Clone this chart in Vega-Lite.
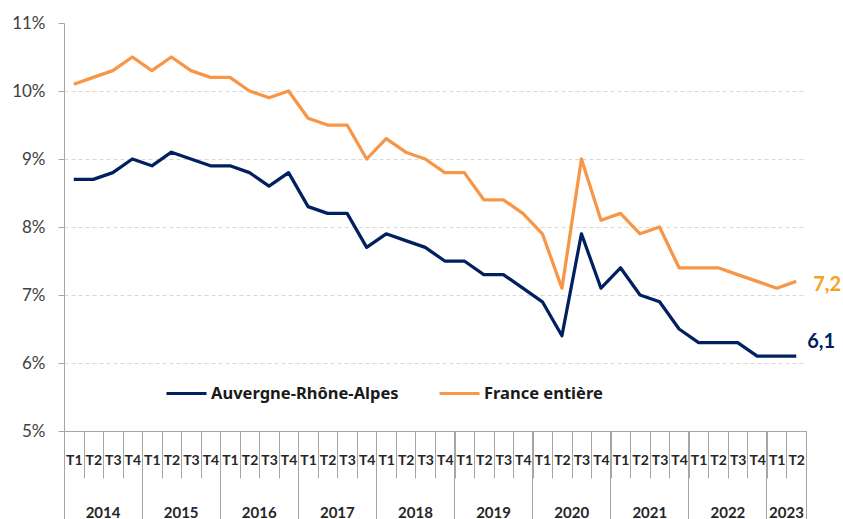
{
  "$schema": "https://vega.github.io/schema/vega-lite/v6.json",
  "width": 742,
  "height": 408,
  "autosize": {"type": "none"},
  "padding": {"left": 64, "top": 23, "right": 37, "bottom": 88},
  "background": "#ffffff",
  "config": {
    "view": {"stroke": null},
    "locale": {"number": {"decimal": ",", "thousands": " ", "grouping": [3], "currency": ["", " €"]}}
  },
  "data": {
    "values": [
      {"q": "2014-T1", "series": "Auvergne-Rhône-Alpes", "value": 8.7},
      {"q": "2014-T2", "series": "Auvergne-Rhône-Alpes", "value": 8.7},
      {"q": "2014-T3", "series": "Auvergne-Rhône-Alpes", "value": 8.8},
      {"q": "2014-T4", "series": "Auvergne-Rhône-Alpes", "value": 9.0},
      {"q": "2015-T1", "series": "Auvergne-Rhône-Alpes", "value": 8.9},
      {"q": "2015-T2", "series": "Auvergne-Rhône-Alpes", "value": 9.1},
      {"q": "2015-T3", "series": "Auvergne-Rhône-Alpes", "value": 9.0},
      {"q": "2015-T4", "series": "Auvergne-Rhône-Alpes", "value": 8.9},
      {"q": "2016-T1", "series": "Auvergne-Rhône-Alpes", "value": 8.9},
      {"q": "2016-T2", "series": "Auvergne-Rhône-Alpes", "value": 8.8},
      {"q": "2016-T3", "series": "Auvergne-Rhône-Alpes", "value": 8.6},
      {"q": "2016-T4", "series": "Auvergne-Rhône-Alpes", "value": 8.8},
      {"q": "2017-T1", "series": "Auvergne-Rhône-Alpes", "value": 8.3},
      {"q": "2017-T2", "series": "Auvergne-Rhône-Alpes", "value": 8.2},
      {"q": "2017-T3", "series": "Auvergne-Rhône-Alpes", "value": 8.2},
      {"q": "2017-T4", "series": "Auvergne-Rhône-Alpes", "value": 7.7},
      {"q": "2018-T1", "series": "Auvergne-Rhône-Alpes", "value": 7.9},
      {"q": "2018-T2", "series": "Auvergne-Rhône-Alpes", "value": 7.8},
      {"q": "2018-T3", "series": "Auvergne-Rhône-Alpes", "value": 7.7},
      {"q": "2018-T4", "series": "Auvergne-Rhône-Alpes", "value": 7.5},
      {"q": "2019-T1", "series": "Auvergne-Rhône-Alpes", "value": 7.5},
      {"q": "2019-T2", "series": "Auvergne-Rhône-Alpes", "value": 7.3},
      {"q": "2019-T3", "series": "Auvergne-Rhône-Alpes", "value": 7.3},
      {"q": "2019-T4", "series": "Auvergne-Rhône-Alpes", "value": 7.1},
      {"q": "2020-T1", "series": "Auvergne-Rhône-Alpes", "value": 6.9},
      {"q": "2020-T2", "series": "Auvergne-Rhône-Alpes", "value": 6.4},
      {"q": "2020-T3", "series": "Auvergne-Rhône-Alpes", "value": 7.9},
      {"q": "2020-T4", "series": "Auvergne-Rhône-Alpes", "value": 7.1},
      {"q": "2021-T1", "series": "Auvergne-Rhône-Alpes", "value": 7.4},
      {"q": "2021-T2", "series": "Auvergne-Rhône-Alpes", "value": 7.0},
      {"q": "2021-T3", "series": "Auvergne-Rhône-Alpes", "value": 6.9},
      {"q": "2021-T4", "series": "Auvergne-Rhône-Alpes", "value": 6.5},
      {"q": "2022-T1", "series": "Auvergne-Rhône-Alpes", "value": 6.3},
      {"q": "2022-T2", "series": "Auvergne-Rhône-Alpes", "value": 6.3},
      {"q": "2022-T3", "series": "Auvergne-Rhône-Alpes", "value": 6.3},
      {"q": "2022-T4", "series": "Auvergne-Rhône-Alpes", "value": 6.1},
      {"q": "2023-T1", "series": "Auvergne-Rhône-Alpes", "value": 6.1},
      {"q": "2023-T2", "series": "Auvergne-Rhône-Alpes", "value": 6.1},
      {"q": "2014-T1", "series": "France entière", "value": 10.1},
      {"q": "2014-T2", "series": "France entière", "value": 10.2},
      {"q": "2014-T3", "series": "France entière", "value": 10.3},
      {"q": "2014-T4", "series": "France entière", "value": 10.5},
      {"q": "2015-T1", "series": "France entière", "value": 10.3},
      {"q": "2015-T2", "series": "France entière", "value": 10.5},
      {"q": "2015-T3", "series": "France entière", "value": 10.3},
      {"q": "2015-T4", "series": "France entière", "value": 10.2},
      {"q": "2016-T1", "series": "France entière", "value": 10.2},
      {"q": "2016-T2", "series": "France entière", "value": 10.0},
      {"q": "2016-T3", "series": "France entière", "value": 9.9},
      {"q": "2016-T4", "series": "France entière", "value": 10.0},
      {"q": "2017-T1", "series": "France entière", "value": 9.6},
      {"q": "2017-T2", "series": "France entière", "value": 9.5},
      {"q": "2017-T3", "series": "France entière", "value": 9.5},
      {"q": "2017-T4", "series": "France entière", "value": 9.0},
      {"q": "2018-T1", "series": "France entière", "value": 9.3},
      {"q": "2018-T2", "series": "France entière", "value": 9.1},
      {"q": "2018-T3", "series": "France entière", "value": 9.0},
      {"q": "2018-T4", "series": "France entière", "value": 8.8},
      {"q": "2019-T1", "series": "France entière", "value": 8.8},
      {"q": "2019-T2", "series": "France entière", "value": 8.4},
      {"q": "2019-T3", "series": "France entière", "value": 8.4},
      {"q": "2019-T4", "series": "France entière", "value": 8.2},
      {"q": "2020-T1", "series": "France entière", "value": 7.9},
      {"q": "2020-T2", "series": "France entière", "value": 7.1},
      {"q": "2020-T3", "series": "France entière", "value": 9.0},
      {"q": "2020-T4", "series": "France entière", "value": 8.1},
      {"q": "2021-T1", "series": "France entière", "value": 8.2},
      {"q": "2021-T2", "series": "France entière", "value": 7.9},
      {"q": "2021-T3", "series": "France entière", "value": 8.0},
      {"q": "2021-T4", "series": "France entière", "value": 7.4},
      {"q": "2022-T1", "series": "France entière", "value": 7.4},
      {"q": "2022-T2", "series": "France entière", "value": 7.4},
      {"q": "2022-T3", "series": "France entière", "value": 7.3},
      {"q": "2022-T4", "series": "France entière", "value": 7.2},
      {"q": "2023-T1", "series": "France entière", "value": 7.1},
      {"q": "2023-T2", "series": "France entière", "value": 7.2}
    ]
  },
  "resolve": {"axis": {"x": "independent"}},
  "layer": [
    {
      "mark": {"type": "line", "strokeWidth": 3.25, "strokeJoin": "round", "strokeCap": "butt"},
      "encoding": {
        "x": {
          "field": "q", "type": "ordinal", "bandPosition": 0.5,
          "scale": {"type": "band", "paddingInner": 0, "paddingOuter": 0, "domain": ["2014-T1","2014-T2","2014-T3","2014-T4","2015-T1","2015-T2","2015-T3","2015-T4","2016-T1","2016-T2","2016-T3","2016-T4","2017-T1","2017-T2","2017-T3","2017-T4","2018-T1","2018-T2","2018-T3","2018-T4","2019-T1","2019-T2","2019-T3","2019-T4","2020-T1","2020-T2","2020-T3","2020-T4","2021-T1","2021-T2","2021-T3","2021-T4","2022-T1","2022-T2","2022-T3","2022-T4","2023-T1","2023-T2"]},
          "axis": {
            "orient": "bottom", "title": null, "grid": false,
            "tickBand": "extent", "tickSize": 47, "tickColor": "#a6a6a6", "tickWidth": 1,
            "domainColor": "#a6a6a6", "domainWidth": 1,
            "labelExpr": "split(datum.value, '-')[1]",
            "labelAngle": 0, "labelFont": "Lato", "labelFontWeight": "bold", "labelFontSize": 14,
            "labelColor": "#262626", "labelBaseline": "middle", "labelPadding": -18,
            "labelOverlap": false, "labelBound": false, "labelFlush": false
          }
        },
        "y": {
          "field": "value", "type": "quantitative",
          "scale": {"domain": [5, 11], "nice": false, "zero": false},
          "axis": {
            "title": null, "values": [5, 6, 7, 8, 9, 10, 11],
            "labelExpr": "datum.value + '%'",
            "grid": true, "gridDash": [4, 3], "gridColor": "#d9d9d9",
            "gridOpacity": {"condition": {"test": "datum.value == 11 || datum.value == 5", "value": 0}, "value": 1},
            "domainColor": "#a6a6a6", "tickColor": "#a6a6a6", "tickSize": 6,
            "labelFont": "Lato", "labelFontSize": 17, "labelColor": "#404040", "labelPadding": 13
          }
        },
        "color": {
          "field": "series", "type": "nominal",
          "scale": {"domain": ["Auvergne-Rhône-Alpes", "France entière"], "range": ["#002060", "#F79646"]},
          "legend": {
            "orient": "none", "legendX": 101, "legendY": 349, "direction": "horizontal", "title": null,
            "symbolType": "stroke", "symbolSize": 1600, "symbolStrokeWidth": 3,
            "labelFont": "Noto Sans", "labelFontSize": 16.5, "labelFontWeight": "bold", "labelColor": "#1a1a1a",
            "labelOffset": 3, "columnPadding": 34, "padding": 0, "labelLimit": 400
          }
        }
      }
    },
    {
      "transform": [{"filter": "datum.series == 'France entière' && datum.q == '2023-T2'"}],
      "mark": {"type": "text", "font": "Lato", "fontWeight": "bold", "fontSize": 20, "color": "#F5A31F", "align": "left", "baseline": "middle", "dx": 17, "dy": 4},
      "encoding": {
        "x": {
          "field": "q", "type": "ordinal", "bandPosition": 0.5,
          "scale": {"type": "band", "paddingInner": 0, "paddingOuter": 0, "domain": ["2014-T1","2014-T2","2014-T3","2014-T4","2015-T1","2015-T2","2015-T3","2015-T4","2016-T1","2016-T2","2016-T3","2016-T4","2017-T1","2017-T2","2017-T3","2017-T4","2018-T1","2018-T2","2018-T3","2018-T4","2019-T1","2019-T2","2019-T3","2019-T4","2020-T1","2020-T2","2020-T3","2020-T4","2021-T1","2021-T2","2021-T3","2021-T4","2022-T1","2022-T2","2022-T3","2022-T4","2023-T1","2023-T2"]},
          "axis": {
            "orient": "bottom", "title": null, "values": ["2014-T1"], "bandPosition": 0,
            "tickSize": 90, "tickColor": "#a6a6a6", "labels": false, "domain": false, "grid": false
          }
        },
        "y": {"field": "value", "type": "quantitative"},
        "text": {"field": "value", "type": "quantitative", "format": ".1f"}
      }
    },
    {
      "transform": [{"filter": "datum.series == 'Auvergne-Rhône-Alpes' && datum.q == '2023-T2'"}],
      "mark": {"type": "text", "font": "Lato", "fontWeight": "bold", "fontSize": 20, "color": "#002060", "align": "left", "baseline": "middle", "dx": 11, "dy": -14},
      "encoding": {
        "x": {
          "field": "q", "type": "ordinal", "bandPosition": 0.5,
          "scale": {"type": "band", "paddingInner": 0, "paddingOuter": 0, "domain": ["2014-T1","2014-T2","2014-T3","2014-T4","2015-T1","2015-T2","2015-T3","2015-T4","2016-T1","2016-T2","2016-T3","2016-T4","2017-T1","2017-T2","2017-T3","2017-T4","2018-T1","2018-T2","2018-T3","2018-T4","2019-T1","2019-T2","2019-T3","2019-T4","2020-T1","2020-T2","2020-T3","2020-T4","2021-T1","2021-T2","2021-T3","2021-T4","2022-T1","2022-T2","2022-T3","2022-T4","2023-T1","2023-T2"]},
          "axis": {
            "orient": "bottom", "title": null,
            "values": ["2014-T4","2015-T4","2016-T4","2017-T4","2018-T4","2019-T4","2020-T4","2021-T4","2022-T4","2023-T2"],
            "bandPosition": 1, "tickSize": 90, "tickColor": "#a6a6a6", "domain": false, "grid": false,
            "labelExpr": "split(datum.value, '-')[0]",
            "labelOffset": {"condition": {"test": "datum.value == '2023-T2'", "value": -9.76}, "value": -29.29},
            "labelAngle": 0, "labelFont": "Lato", "labelFontWeight": "bold", "labelFontSize": 15,
            "labelColor": "#262626", "labelBaseline": "middle", "labelPadding": -9,
            "labelOverlap": false, "labelBound": false, "labelFlush": false
          }
        },
        "y": {"field": "value", "type": "quantitative"},
        "text": {"field": "value", "type": "quantitative", "format": ".1f"}
      }
    }
  ]
}
